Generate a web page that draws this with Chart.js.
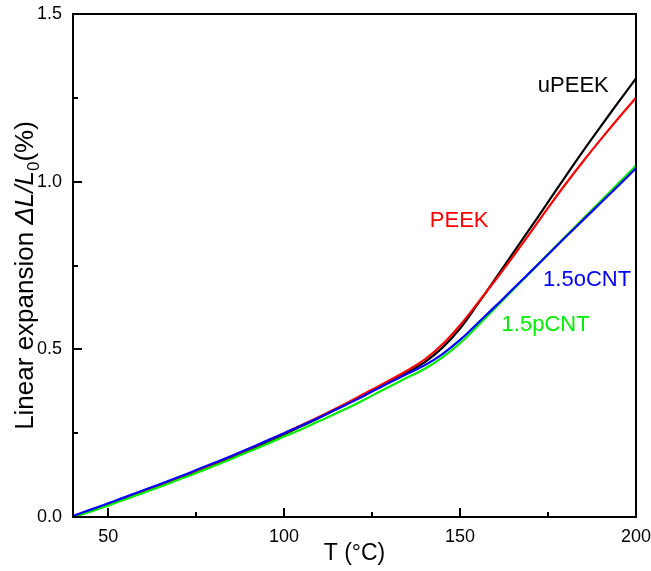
<!DOCTYPE html>
<html><head><meta charset="utf-8">
<style>html,body{margin:0;padding:0;background:#fff;} #wrap{width:651px;height:571px;position:relative;background:#fff;}</style>
<script src="https://cdn.jsdelivr.net/npm/chart.js@4/dist/chart.umd.min.js"></script>
</head><body><div id="wrap"><canvas id="c" width="651" height="571"></canvas></div>
<script>
// ---- data ----
const temperature = [40,45,50,55,60,65,70,75,80,85,90,95,100,105,110,115,120,125,130,135,140,145,150,155,160,165,170,175,180,185,190,195,200];
const uPEEK = [0.000,0.018,0.037,0.056,0.075,0.094,0.114,0.135,0.156,0.178,0.200,0.223,0.247,0.271,0.296,0.322,0.349,0.377,0.405,0.432,0.462,0.505,0.562,0.635,0.710,0.786,0.862,0.939,1.016,1.092,1.165,1.237,1.308];
const PEEK = [0.000,0.019,0.039,0.058,0.078,0.097,0.117,0.138,0.159,0.181,0.203,0.226,0.250,0.274,0.299,0.325,0.352,0.380,0.408,0.437,0.470,0.515,0.572,0.638,0.706,0.776,0.848,0.922,0.993,1.061,1.126,1.189,1.250];
const oCNT = [0.003,0.022,0.041,0.060,0.080,0.099,0.119,0.140,0.161,0.182,0.204,0.227,0.250,0.273,0.297,0.322,0.347,0.374,0.401,0.427,0.453,0.486,0.528,0.578,0.628,0.680,0.731,0.783,0.835,0.886,0.937,0.988,1.040];
const pCNT = [0.000,0.016,0.034,0.053,0.072,0.091,0.111,0.131,0.152,0.173,0.195,0.217,0.240,0.262,0.286,0.310,0.335,0.362,0.389,0.416,0.442,0.476,0.518,0.570,0.623,0.677,0.730,0.784,0.837,0.890,0.942,0.995,1.048];
const seriesNames = ['uPEEK','PEEK','1.5oCNT','1.5pCNT'];
const xTicks = [50,100,150,200];
const xMinorTicks = [75,125,175];
const yTicks = [0.0,0.5,1.0,1.5];
const yMinorTicks = [0.25,0.75,1.25];
const xTitle = 'T (\u00B0C)';
const yTitleParts = ['Linear expansion ', '\u0394L/L', '0', '(%)'];

// ---- styling / placement ----
const FAMILY = 'Arial, "Liberation Sans", Helvetica, sans-serif';
const colors = ['#000000','#ff0000','#0000ff','#00ee00'];
const labelAnchors = [ // data-space anchors (left, baseline)
  {x:172.1, y:1.268},
  {x:141.4, y:0.865},
  {x:173.6, y:0.690},
  {x:161.8, y:0.554}
];
const drawOrder = [4,3,1,2];

const datasets = [uPEEK, PEEK, oCNT, pCNT].map((vals, i) => ({
  label: seriesNames[i],
  data: temperature.map((t, k) => ({x: t, y: vals[k]})),
  borderColor: colors[i],
  backgroundColor: colors[i],
  borderWidth: 2.2,
  pointRadius: 0,
  fill: false,
  tension: 0.4,
  order: drawOrder[i]
}));

const decor = {
  id: 'decor',
  afterDraw(chart) {
    const {ctx, chartArea: a, scales: {x, y}} = chart;
    ctx.save();
    ctx.strokeStyle = '#000';
    ctx.lineWidth = 2;
    ctx.beginPath();
    xTicks.forEach(v => { const p = Math.round(x.getPixelForValue(v)); ctx.moveTo(p, a.bottom); ctx.lineTo(p, a.bottom - 9); });
    xMinorTicks.forEach(v => { const p = Math.round(x.getPixelForValue(v)); ctx.moveTo(p, a.bottom); ctx.lineTo(p, a.bottom - 5); });
    yTicks.forEach(v => { const p = Math.round(y.getPixelForValue(v)); ctx.moveTo(a.left, p); ctx.lineTo(a.left + 9, p); });
    yMinorTicks.forEach(v => { const p = Math.round(y.getPixelForValue(v)); ctx.moveTo(a.left, p); ctx.lineTo(a.left + 5, p); });
    ctx.stroke();
    ctx.strokeRect(a.left, a.top, a.right - a.left, a.bottom - a.top);

    // series labels
    ctx.font = '22px ' + FAMILY;
    ctx.textAlign = 'left';
    ctx.textBaseline = 'alphabetic';
    seriesNames.forEach((n, i) => {
      ctx.fillStyle = colors[i];
      ctx.fillText(n, x.getPixelForValue(labelAnchors[i].x), y.getPixelForValue(labelAnchors[i].y));
    });

    // y title with italic and subscript
    const fonts = ['26px ' + FAMILY, 'italic 26px ' + FAMILY, '17px ' + FAMILY, '26px ' + FAMILY];
    const dys = [0, 0, 6, 0];
    let total = 0;
    const widths = yTitleParts.map((t, i) => { ctx.font = fonts[i]; const w = ctx.measureText(t).width; total += w; return w; });
    ctx.translate(33, (a.top + a.bottom) / 2 + 10);
    ctx.rotate(-Math.PI / 2);
    ctx.fillStyle = '#000';
    let cx = -total / 2;
    yTitleParts.forEach((t, i) => { ctx.font = fonts[i]; ctx.fillText(t, cx, dys[i]); cx += widths[i]; });
    ctx.restore();
  }
};

new Chart(document.getElementById('c'), {
  type: 'line',
  data: { datasets },
  options: {
    responsive: false,
    animation: false,
    devicePixelRatio: 1,
    layout: { padding: { top: 14, right: 15, left: 0, bottom: 0 } },
    plugins: { legend: { display: false }, tooltip: { enabled: false } },
    scales: {
      x: {
        type: 'linear', min: 40, max: 200,
        afterBuildTicks: s => { s.ticks = xTicks.map(v => ({value: v})); },
        ticks: { color: '#000', font: { family: FAMILY, size: 18 }, padding: 0, maxRotation: 0, autoSkip: false },
        grid: { display: true, drawOnChartArea: false, drawTicks: true, tickLength: 9, tickColor: 'rgba(0,0,0,0)' },
        border: { display: false },
        title: { display: true, text: xTitle, color: '#000', font: { family: FAMILY, size: 23 }, padding: { top: 0, bottom: 4 } },
        afterFit: s => { s.height = 54; }
      },
      y: {
        type: 'linear', min: 0, max: 1.5,
        afterBuildTicks: s => { s.ticks = yTicks.map(v => ({value: v})); },
        ticks: { color: '#000', font: { family: FAMILY, size: 18 }, padding: 0, callback: v => Number(v).toFixed(1) },
        grid: { display: true, drawOnChartArea: false, drawTicks: true, tickLength: 11, tickColor: 'rgba(0,0,0,0)' },
        border: { display: false },
        afterFit: s => { s.width = 73; }
      }
    }
  },
  plugins: [decor]
});
</script>
</body></html>
